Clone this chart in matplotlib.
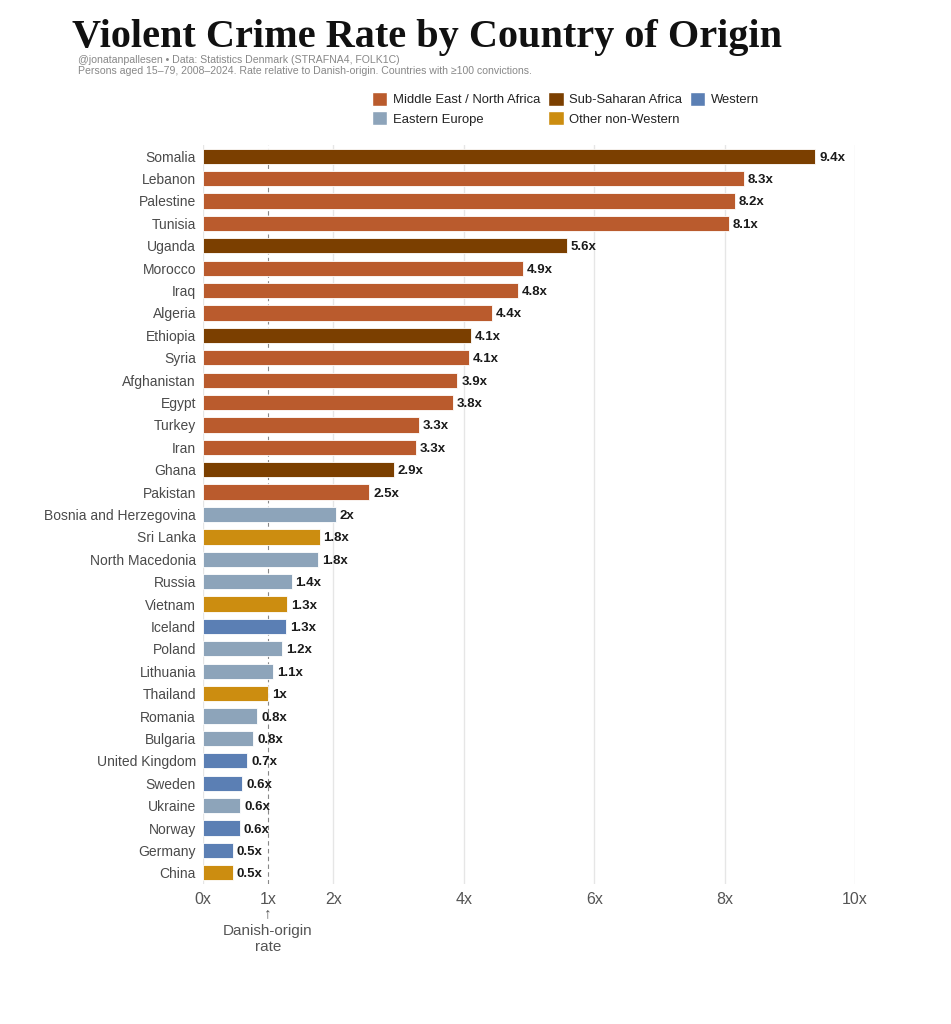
import matplotlib
matplotlib.use("Agg")
import matplotlib.pyplot as plt
from matplotlib.patches import Patch

countries = ["Somalia", "Lebanon", "Palestine", "Tunisia", "Uganda", "Morocco", "Iraq",
             "Algeria", "Ethiopia", "Syria", "Afghanistan", "Egypt", "Turkey", "Iran",
             "Ghana", "Pakistan", "Bosnia and Herzegovina", "Sri Lanka", "North Macedonia",
             "Russia", "Vietnam", "Iceland", "Poland", "Lithuania", "Thailand", "Romania",
             "Bulgaria", "United Kingdom", "Sweden", "Ukraine", "Norway", "Germany", "China"]
rates = [9.39, 8.30, 8.16, 8.06, 5.58, 4.91, 4.83, 4.43, 4.11, 4.08, 3.90, 3.83, 3.31, 3.27,
         2.93, 2.55, 2.04, 1.79, 1.76, 1.36, 1.29, 1.27, 1.21, 1.07, 1.00, 0.83, 0.77, 0.68,
         0.60, 0.57, 0.56, 0.46, 0.46]
regions = ["SSA", "MENA", "MENA", "MENA", "SSA", "MENA", "MENA", "MENA", "SSA", "MENA",
           "MENA", "MENA", "MENA", "MENA", "SSA", "MENA", "EE", "OTH", "EE", "EE", "OTH",
           "WEST", "EE", "EE", "OTH", "EE", "EE", "WEST", "WEST", "EE", "WEST", "WEST", "OTH"]
region_names = {"MENA": "Middle East / North Africa", "SSA": "Sub-Saharan Africa",
                "WEST": "Western", "EE": "Eastern Europe", "OTH": "Other non-Western"}
region_colors = {"MENA": "#BA5B2D", "SSA": "#7B3F00", "WEST": "#5B7FB4",
                 "EE": "#8DA4BA", "OTH": "#CC8D10"}
xticks = [0, 1, 2, 4, 6, 8, 10]
xticklabels = ["0x", "1x", "2x", "4x", "6x", "8x", "10x"]

plt.rcParams['font.family'] = ['Liberation Sans', 'DejaVu Sans']

fig = plt.figure(figsize=(9.51, 10.24), dpi=100)
W, H = 951, 1024
ax = fig.add_axes([203 / W, 1 - 884 / H, (855 - 203) / W, (884 - 145) / H])

y = list(range(len(countries)))
colors = [region_colors[r] for r in regions]
ax.barh(y, rates, height=0.68, color=colors, edgecolor="white", linewidth=0.6, zorder=3)
ax.set_ylim(len(countries) - 0.5, -0.5)
ax.set_xlim(0, 10)

for g in [0, 2, 4, 6, 8, 10]:
    ax.axvline(g, color="#e6e6e6", linewidth=1, zorder=1)
ax.axvline(1, color="#888888", linewidth=0.8, linestyle=(0, (4, 3)), zorder=2)

def fmt(v):
    s = f"{v:.1f}"
    if s.endswith(".0"):
        s = s[:-2]
    return s + "x"

for yi, v in zip(y, rates):
    ax.text(v + 0.06, yi, fmt(v), va="center_baseline", ha="left", fontsize=9.5,
            fontweight="bold", color="#1a1a1a", zorder=4)

ax.set_yticks(y)
ax.set_yticklabels(countries, fontsize=10, color="#4a4a4a")
ax.set_xticks(xticks)
ax.set_xticklabels(xticklabels, fontsize=11.5, color="#555555")
ax.tick_params(axis="both", length=0)
ax.tick_params(axis="y", pad=5)
ax.tick_params(axis="x", pad=6)
for s in ax.spines.values():
    s.set_visible(False)

fig.text(72 / W, 1 - 37 / H, "Violent Crime Rate by Country of Origin", fontsize=29,
         fontweight="bold", family=["Liberation Serif", "DejaVu Serif"], color="#111111",
         va="center", ha="left")
fig.text(78 / W, 1 - 60 / H, "@jonatanpallesen • Data: Statistics Denmark (STRAFNA4, FOLK1C)",
         fontsize=7.6, color="#888888", va="center", ha="left")
fig.text(78 / W, 1 - 71 / H,
         "Persons aged 15–79, 2008–2024. Rate relative to Danish-origin. Countries with ≥100 convictions.",
         fontsize=7.6, color="#888888", va="center", ha="left")

order = ["MENA", "EE", "SSA", "OTH", "WEST"]
handles = [Patch(facecolor=region_colors[k], edgecolor="white", label=region_names[k]) for k in order]
leg = fig.legend(handles=handles, ncol=3, loc="upper left", bbox_to_anchor=(360 / W, 1 - 80 / H),
                 frameon=False, fontsize=9.4, handlelength=1.2, handleheight=1.25,
                 handletextpad=0.45, columnspacing=0.55, labelspacing=0.4)
for t in leg.get_texts():
    t.set_color("#222222")

fig.text(268 / W, 1 - 913 / H, "↑", fontsize=11, color="#555555", ha="center", va="center")
fig.text(268 / W, 1 - 939 / H, "Danish-origin\nrate", fontsize=11, color="#555555",
         ha="center", va="center", linespacing=1.2)

fig.savefig("out.png", dpi=100, facecolor="white")
